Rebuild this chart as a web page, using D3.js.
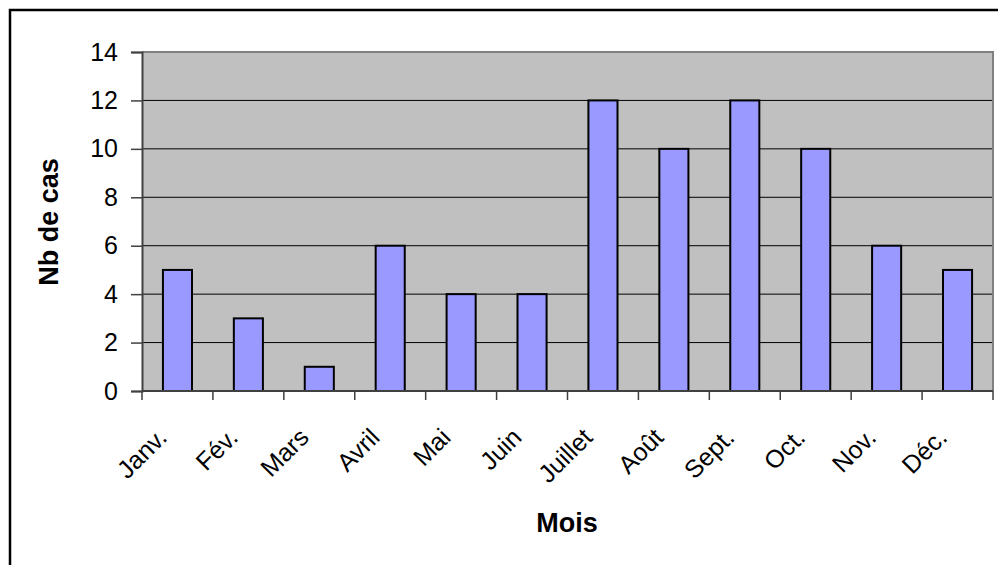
<!DOCTYPE html>
<html><head><meta charset="utf-8">
<script src="https://cdn.jsdelivr.net/npm/d3@7"></script>
<style>body{margin:0;background:#fff}svg{display:block}</style>
</head><body>
<script>
const categories = ["Janv.","Fév.","Mars","Avril","Mai","Juin","Juillet","Août","Sept.","Oct.","Nov.","Déc."];
const values = [5,3,1,6,4,4,12,10,12,10,6,5];
const yTicks = [0,2,4,6,8,10,12,14];
const yTitle = "Nb de cas";
const xTitle = "Mois";

(function(){
const W = 998, H = 565;
const pL = 142, pR = 993, pT = 52, pB = 391;
const svg = d3.select("body").append("svg").attr("width", W).attr("height", H);
const font = "Arial, 'Liberation Sans', sans-serif";

svg.append("rect").attr("x",10).attr("y",10).attr("width",1000).attr("height",600)
  .attr("fill","#fff").attr("stroke","#000").attr("stroke-width",2.5);

const x = d3.scaleBand().domain(categories).range([pL, pR]).paddingInner(0).paddingOuter(0);
const y = d3.scaleLinear().domain([0,14]).range([pB, pT]);

svg.append("rect").attr("x",pL).attr("y",pT).attr("width",pR-pL).attr("height",pB-pT)
  .attr("fill","#c0c0c0");

// gridlines
svg.append("g").selectAll("line").data(yTicks.filter(d=>d>0&&d<14)).join("line")
  .attr("x1",pL).attr("x2",pR).attr("y1",d=>y(d)).attr("y2",d=>y(d))
  .attr("stroke","#000").attr("stroke-width",1);

// plot border top/right
svg.append("path").attr("d",`M${pL},${pT}H${pR}V${pB}`).attr("fill","none")
  .attr("stroke","#808080").attr("stroke-width",2);

// bars
const bw = x.bandwidth()*0.41;
svg.append("g").selectAll("rect").data(values).join("rect")
  .attr("x",(d,i)=>x(categories[i])+x.bandwidth()/2-bw/2)
  .attr("y",d=>y(d)).attr("width",bw).attr("height",d=>pB-y(d))
  .attr("fill","#9999ff").attr("stroke","#000").attr("stroke-width",2);

// y axis
const yAxis = d3.axisLeft(y).tickValues(yTicks).tickSize(11).tickPadding(13).tickFormat(d3.format("d"));
const gy = svg.append("g").attr("transform",`translate(${pL},0)`).call(yAxis);
gy.select(".domain").attr("stroke","#404040").attr("stroke-width",2);
gy.selectAll(".tick line").attr("stroke","#404040").attr("stroke-width",1.5);
gy.selectAll(".tick text").attr("font-family",font).attr("font-size",25).attr("fill","#000");

// x axis with ticks at band boundaries
svg.append("line").attr("x1",pL).attr("x2",pR).attr("y1",pB).attr("y2",pB)
  .attr("stroke","#404040").attr("stroke-width",2);
const bounds = categories.map(c=>x(c)).concat([pR]);
svg.append("g").selectAll("line").data(bounds).join("line")
  .attr("x1",d=>d).attr("x2",d=>d).attr("y1",pB).attr("y2",pB+9)
  .attr("stroke","#404040").attr("stroke-width",1.5);

svg.append("g").selectAll("text").data(categories).join("text")
  .attr("transform",d=>`translate(${x(d)+x.bandwidth()/2-9},${pB+48}) rotate(-45)`)
  .attr("text-anchor","end").attr("font-family",font).attr("font-size",25).attr("fill","#000")
  .text(d=>d);

svg.append("text").attr("x",567).attr("y",532).attr("text-anchor","middle")
  .attr("font-family",font).attr("font-size",27).attr("font-weight","bold").text(xTitle);
svg.append("text").attr("transform","translate(58,222) rotate(-90)").attr("text-anchor","middle")
  .attr("font-family",font).attr("font-size",27).attr("font-weight","bold").text(yTitle);
})();
</script>
</body></html>
